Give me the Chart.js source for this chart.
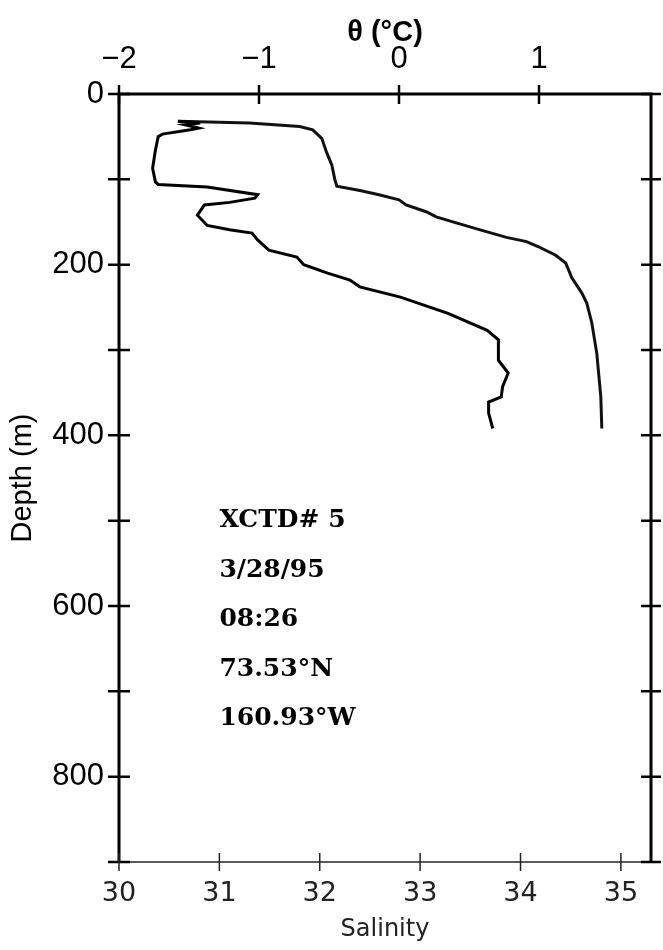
<!DOCTYPE html>
<html>
<head>
<meta charset="utf-8">
<script src="https://cdn.jsdelivr.net/npm/chart.js@4.4.1/dist/chart.umd.min.js"></script>
<style>
  body { margin: 0; background: #fff; }
  #wrap { width: 663px; height: 950px; }
</style>
</head>
<body>
<div id="wrap"><canvas id="chartXctd" width="663" height="950"></canvas></div>
<script>
// potential temperature profile (top axis)
const thetaDepth = [32, 34, 36, 40, 42, 47, 50, 66, 87, 103, 106, 109, 118, 122, 127, 130, 142, 154, 159, 163, 171, 183, 191, 200, 210, 218, 226, 238, 257, 277, 288, 300, 312, 327, 343, 355, 361, 374, 392];
const thetaVals  = [-1.58, -1.42, -1.53, -1.43, -1.49, -1.69, -1.72, -1.74, -1.76, -1.74, -1.72, -1.37, -1.01, -1.03, -1.21, -1.39, -1.44, -1.37, -1.21, -1.05, -1.01, -0.93, -0.73, -0.68, -0.51, -0.35, -0.28, 0.01, 0.35, 0.63, 0.71, 0.71, 0.71, 0.78, 0.74, 0.73, 0.64, 0.64, 0.67];

// salinity profile (bottom axis)
const salDepth = [32, 34, 38, 42, 52, 69, 83, 100, 108, 113, 118, 124, 130, 138, 144, 151, 159, 168, 173, 179, 189, 198, 215, 233, 245, 268, 304, 355, 392];
const salVals  = [30.59, 31.30, 31.80, 31.93, 32.02, 32.07, 32.12, 32.15, 32.17, 32.40, 32.59, 32.79, 32.86, 33.06, 33.16, 33.36, 33.59, 33.86, 34.06, 34.18, 34.35, 34.45, 34.51, 34.61, 34.66, 34.71, 34.76, 34.80, 34.81];

const thetaTicks = [-2, -1, 0, 1];
const salTicks = [30, 31, 32, 33, 34, 35];
const depthLabels = [0, 200, 400, 600, 800];
const depthTicks = [0, 100, 200, 300, 400, 500, 600, 700, 800, 900];

const stationText = ['XCTD# 5', '3/28/95', '08:26', '73.53°N', '160.93°W'];
const textDepths = [500, 558, 616, 674, 732];

const sansFont = "'Liberation Sans', Arial, sans-serif";

// frame, crossing ticks and station text
const framePlugin = {
    id: 'frame',
    afterDraw(chart) {
        const c = chart.ctx;
        const a = chart.chartArea;
        const y = chart.scales.y, xb = chart.scales.x, xt = chart.scales.xTop;
        c.save();
        c.strokeStyle = '#000';
        c.lineCap = 'butt';
        // heavy left, top, right
        c.lineWidth = 3;
        c.beginPath();
        c.moveTo(a.left, a.bottom); c.lineTo(a.left, a.top);
        c.lineTo(a.right, a.top); c.lineTo(a.right, a.bottom);
        c.stroke();
        // thin bottom
        c.lineWidth = 1.5;
        c.strokeStyle = '#222';
        c.beginPath();
        c.moveTo(a.left, a.bottom); c.lineTo(a.right, a.bottom);
        c.stroke();

        c.strokeStyle = '#000';
        c.lineWidth = 2.5;
        depthTicks.forEach(d => {
            const py = y.getPixelForValue(d);
            c.beginPath();
            c.moveTo(a.left - 11, py); c.lineTo(a.left + 11, py);
            c.moveTo(a.right - 10, py); c.lineTo(a.right + 10, py);
            c.stroke();
        });
        thetaTicks.forEach(t => {
            const px = xt.getPixelForValue(t);
            c.beginPath();
            c.moveTo(px, a.top - 9); c.lineTo(px, a.top + 10);
            c.stroke();
        });
        c.lineWidth = 1.5;
        c.strokeStyle = '#222';
        salTicks.forEach(s => {
            const px = xb.getPixelForValue(s);
            c.beginPath();
            c.moveTo(px, a.bottom - 9); c.lineTo(px, a.bottom + 9);
            c.stroke();
        });

        // station info
        c.fillStyle = '#000';
        c.font = "bold 25px 'DejaVu Serif', serif";
        c.textAlign = 'left';
        c.textBaseline = 'middle';
        stationText.forEach((t, i) => {
            c.fillText(t, xb.getPixelForValue(31), y.getPixelForValue(textDepths[i]));
        });
        c.restore();
    }
};

const ctx = document.getElementById('chartXctd');
const chartXctd = new Chart(ctx, {
    type: 'scatter',
    data: {
        datasets: [
            {
                label: 'theta',
                data: thetaDepth.map((d, i) => ({ x: thetaVals[i], y: d })),
                xAxisID: 'xTop',
                yAxisID: 'y',
                showLine: true,
                borderColor: '#000',
                borderWidth: 3,
                pointRadius: 0,
                tension: 0
            },
            {
                label: 'salinity',
                data: salDepth.map((d, i) => ({ x: salVals[i], y: d })),
                xAxisID: 'x',
                yAxisID: 'y',
                showLine: true,
                borderColor: '#111',
                borderWidth: 3,
                pointRadius: 0,
                tension: 0
            }
        ]
    },
    options: {
        responsive: false,
        animation: false,
        layout: { padding: { left: 0, right: 12, top: 0, bottom: 0 } },
        plugins: {
            legend: { display: false },
            tooltip: { enabled: false }
        },
        scales: {
            y: {
                type: 'linear',
                reverse: true,
                min: 0,
                max: 900,
                afterBuildTicks: s => { s.ticks = depthLabels.map(v => ({ value: v })); },
                afterFit: s => { s.width = 119; },
                grid: { display: false, drawTicks: false },
                border: { display: false },
                ticks: { color: '#000', padding: 15, font: { family: sansFont, size: 31 } },
                title: { display: true, text: 'Depth (m)', color: '#000', padding: { top: 6, bottom: 4 }, font: { family: sansFont, size: 29 } }
            },
            x: {
                type: 'linear',
                position: 'bottom',
                min: 30,
                max: 35.3,
                afterBuildTicks: s => { s.ticks = salTicks.map(v => ({ value: v })); },
                afterFit: s => { s.height = 88; },
                grid: { display: false, drawTicks: false },
                border: { display: false },
                ticks: { color: '#222', padding: 16, font: { family: "'DejaVu Sans', sans-serif", size: 27 } },
                title: { display: true, text: 'Salinity', color: '#222', padding: { top: 0, bottom: 6 }, font: { family: "'DejaVu Sans', sans-serif", size: 24 } }
            },
            xTop: {
                type: 'linear',
                position: 'top',
                min: -2,
                max: 1.8,
                afterBuildTicks: s => { s.ticks = thetaTicks.map(v => ({ value: v })); },
                afterFit: s => { s.height = 94; },
                grid: { display: false, drawTicks: false },
                border: { display: false },
                ticks: {
                    color: '#000', padding: 16,
                    font: { family: sansFont, size: 31 },
                    callback: v => (v < 0 ? '\u2212' + Math.abs(v) : String(v))
                },
                title: { display: true, text: 'θ (°C)', color: '#000', padding: { top: 16, bottom: 0 }, font: { family: sansFont, size: 29, weight: 'bold' } }
            }
        }
    },
    plugins: [framePlugin]
});
</script>
</body>
</html>
